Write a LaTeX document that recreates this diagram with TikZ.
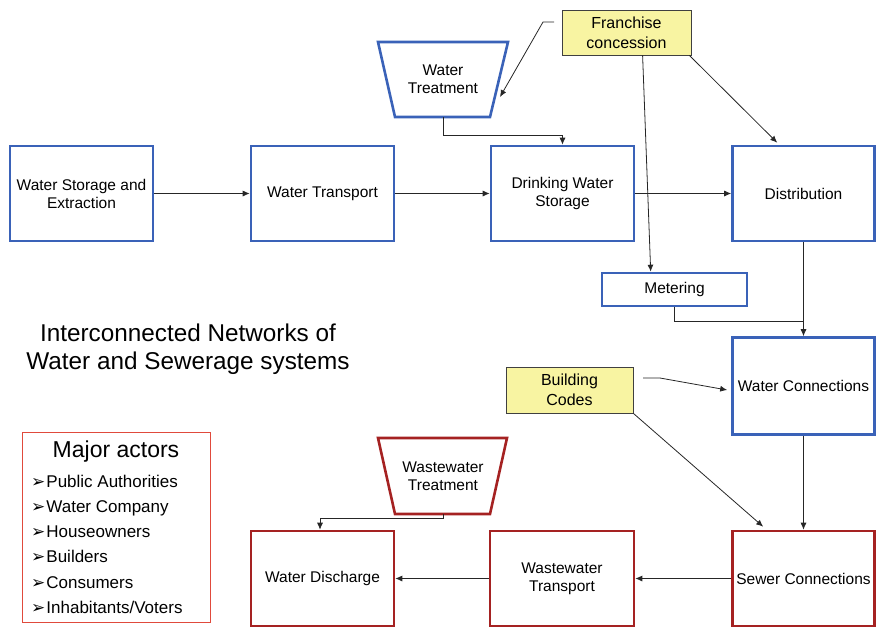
\documentclass[tikz,border=0pt]{standalone}
\usepackage{fontspec}
\setmainfont{Liberation Sans}
\newfontfamily\symfont{DejaVu Sans}
\usetikzlibrary{arrows.meta,calc}
\definecolor{bblue}{HTML}{3A62B8}
\definecolor{bred}{HTML}{A52222}
\definecolor{pyellow}{HTML}{F8F4A2}
\definecolor{lred}{HTML}{E04A3C}
\tikzset{
  bbox/.style={draw=bblue,line width=2.6pt,minimum width=143pt,minimum height=95pt,align=center,inner sep=0pt,font=\fontsize{15.5}{18}\selectfont},
  rbox/.style={bbox,draw=bred},
  ybox/.style={draw=black!75,fill=pyellow,line width=0.8pt,align=center,inner sep=0pt,font=\fontsize{16}{20}\selectfont},
  conn/.style={draw=black!85,line width=0.8pt,-{Latex[length=7pt,width=6pt]}},
  plain/.style={draw=black!85,line width=0.8pt},
  trap/.style={line width=2.6pt,line join=miter},
  item/.style={anchor=base west,inner sep=0pt,font=\fontsize{17}{20}\selectfont},
}
\begin{document}
\begin{tikzpicture}[x=1pt,y=-1pt]
\useasboundingbox (0,0) rectangle (876,627);
% top row
\node[bbox] (wse) at (81.5,193.5) {Water Storage and\\Extraction};
\node[bbox] (wt) at (322.5,193.5) {Water Transport};
\node[bbox] (dws) at (562.5,193.5) {Drinking Water\\Storage};
\node[bbox,minimum width=142pt] (dist) at (803.5,193.5) {Distribution};
% water treatment trapezoid
\draw[trap,draw=bblue] (378,42) -- (508,42) -- (490,117) -- (395,117) -- cycle;
\node[align=center,font=\fontsize{15.5}{18}\selectfont] (wtr) at (443,79) {Water\\Treatment};
\coordinate (wtrb) at (443,117);
% franchise
\node[ybox,minimum width=129pt,minimum height=45pt] (fc) at (626.5,32.5) {Franchise\\concession};
% metering
\node[bbox,minimum width=145pt,minimum height=33pt] (met) at (674.5,289.5) {Metering};
% water connections
\node[bbox,minimum width=142pt,minimum height=97pt] (wc) at (803.5,386) {Water Connections};
% building codes
\node[ybox,minimum width=127pt,minimum height=46pt] (bc) at (569.5,390) {Building\\Codes};
% bottom row
\node[rbox,minimum width=142pt] (sc) at (803.5,578.5) {Sewer Connections};
\node[rbox,minimum width=144pt] (wwt) at (562,578.5) {Wastewater\\Transport};
\node[rbox] (wd) at (322.5,578.5) {Water Discharge};
% wastewater treatment
\draw[trap,draw=bred] (378,438) -- (507,438) -- (490,514) -- (395,514) -- cycle;
\node[align=center,font=\fontsize{15.5}{18}\selectfont] (wwtr) at (443,476) {Wastewater\\Treatment};
\coordinate (wwtrb) at (443,514);
% title
\node[align=center,font=\fontsize{24.3}{28}\selectfont] (title) at (188,349) {Interconnected Networks of\\Water and Sewerage systems};
% actors
\node[draw=lred,line width=0.9pt,minimum width=188pt,minimum height=190pt,inner sep=0pt] (act) at (116,527) {};
\node[font=\fontsize{23}{26}\selectfont] (acth) at (116,452) {Major actors};
\foreach \t [count=\i] in {Public Authorities,Water Company,Houseowners,Builders,Consumers,Inhabitants/Voters}{
  \node[item] (a\i) at (31,462+25.2*\i) {{\symfont\fontsize{17}{18}\selectfont ➢}\hspace{1pt}\t};
}
% connectors
\draw[conn] (wse.east) -- (wt.west);
\draw[conn] (wt.east) -- (dws.west);
\draw[conn] (dws.east) -- (dist.west);
\draw[conn] (wtrb) -- (443,135) -| (dws.north);
\coordinate (fcl) at (554,22);
\draw[conn] (fcl) -- (543,22) -- (500,97);
\draw[conn] ($(fc.south west)+(81,0)$) -- ($(met.north west)+(50,0)$);
\draw[conn] ($(fc.south east)+(-2,0)$) -- ($(dist.north west)+(46,-2)$);
\draw[conn] (dist.south) -- (wc.north);
\draw[plain] (met.south) -- ++(0,14) -| ($(wc.north)+(0,-17)$);
\coordinate (bcr) at (643,378);
\draw[conn] (bcr) -- (660,378) -- ($(wc.west)+(-4,4)$);
\draw[conn] (bc.south east) -- ($(sc.north west)+(32,-3)$);
\draw[conn] (wc.south) -- (sc.north);
\draw[conn] (sc.west) -- (wwt.east);
\draw[conn] (wwt.west) -- (wd.east);
\draw[conn] (wwtrb) -- (443,518) -| (wd.north -| 320,0);
\end{tikzpicture}
\end{document}
